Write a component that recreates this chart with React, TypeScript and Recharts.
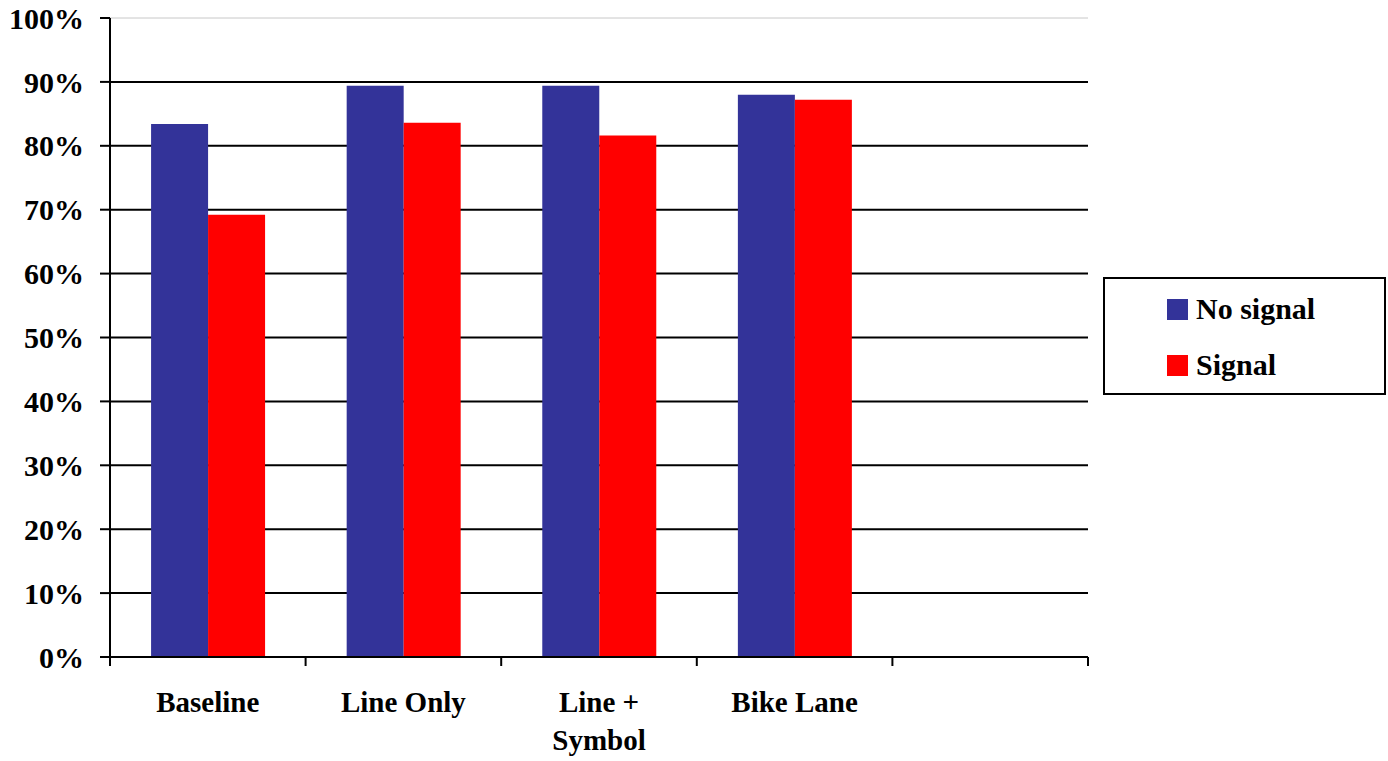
import React from "react";
import {BarChart, CartesianGrid, XAxis, YAxis, Bar, ReferenceLine} from 'recharts';

const categories = ['Baseline', 'Line Only', 'Line + Symbol', 'Bike Lane', ''];
// how each category label is wrapped under the axis
const categoryLines = [['Baseline'], ['Line Only'], ['Line +', 'Symbol'], ['Bike Lane'], []];
const noSignal = [83.4, 89.4, 89.4, 88.0, null];
const signal = [69.2, 83.6, 81.6, 87.2, null];
const yTicks = [0, 10, 20, 30, 40, 50, 60, 70, 80, 90, 100];

const seriesNames = ['No signal', 'Signal'];
const seriesColors = ['#333399', '#FF0000'];

const FONT = '"Liberation Serif", "Times New Roman", serif';

const data = categories.map((c, i) => ({
    name: c,
    noSignal: noSignal[i],
    signal: signal[i],
}));

// category label centred in band, tick mark drawn at band boundary
const CategoryTick = (props: any) => {
    const {x, y, index, width, visibleTicksCount} = props;
    const band = width / visibleTicksCount;
    const left = x - band / 2;
    const right = x + band / 2;
    const lines = categoryLines[index] || [];
    return (
        <g>
            <line x1={left} x2={left} y1={y - 8} y2={y + 1} stroke="#000" strokeWidth={2}/>
            {index === visibleTicksCount - 1 &&
                <line x1={right} x2={right} y1={y - 8} y2={y + 1} stroke="#000" strokeWidth={2}/>}
            <text x={x} y={y + 47} textAnchor="middle"
                  style={{fontFamily: FONT, fontWeight: 'bold', fontSize: 29, fill: '#000'}}>
                {lines.map((l, i) => (
                    <tspan key={i} x={x} dy={i === 0 ? 0 : 38}>{l}</tspan>
                ))}
            </text>
        </g>
    );
};

const LegendBox = () => (
    <div style={{
        position: 'absolute', left: 1103, top: 277,
        width: 279, height: 114, border: '2px solid #000', background: '#fff',
        fontFamily: FONT, fontWeight: 'bold', fontSize: 30, color: '#000',
    }}>
        {seriesNames.map((n, i) => (
            <div key={n} style={{
                position: 'absolute', left: 62, top: i === 0 ? 12 : 68,
                display: 'flex', alignItems: 'center', height: 36,
            }}>
                <span style={{display: 'inline-block', width: 21, height: 21, background: seriesColors[i], marginRight: 8}}/>
                <span>{n}</span>
            </div>
        ))}
    </div>
);

const App = () => {
    return (
        <div style={{position: 'absolute', left: 0, top: 0, width: 1388, height: 761}}>
            <BarChart width={1388} height={761} data={data}
                      margin={{top: 18, right: 300, left: 0, bottom: 0}}
                      barCategoryGap="21%" barGap={0}>
                <CartesianGrid vertical={false} horizontalValues={[10, 20, 30, 40, 50, 60, 70, 80, 90]}
                               stroke="#000" strokeWidth={2}/>
                <ReferenceLine y={100} stroke="#c8c8c8" strokeWidth={1}/>
                <XAxis dataKey="name" height={104} interval={0} tickLine={false}
                       axisLine={{stroke: '#000', strokeWidth: 2}}
                       tick={<CategoryTick/>}/>
                <YAxis width={110} domain={[0, 100]} ticks={yTicks} interval={0}
                       tickFormatter={(v: number) => `${v}%`}
                       tickSize={10} tickMargin={16}
                       axisLine={{stroke: '#000', strokeWidth: 2}}
                       tickLine={{stroke: '#000', strokeWidth: 2}}
                       tick={{fontFamily: FONT, fontWeight: 'bold', fontSize: 30, fill: '#000'}}/>
                <Bar dataKey="noSignal" name={seriesNames[0]} fill={seriesColors[0]} isAnimationActive={false}/>
                <Bar dataKey="signal" name={seriesNames[1]} fill={seriesColors[1]} isAnimationActive={false}/>
            </BarChart>
            <LegendBox/>
        </div>
    );
}

export default App;
